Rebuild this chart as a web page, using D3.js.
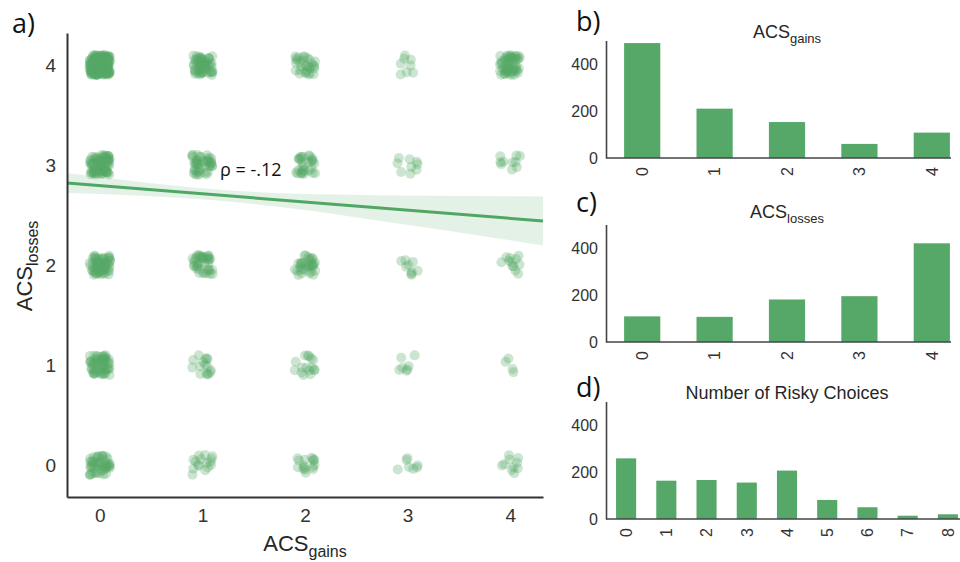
<!DOCTYPE html>
<html>
<head>
<meta charset="utf-8">
<script src="https://cdn.jsdelivr.net/npm/d3@7"></script>
<style>
  body { margin: 0; background: #fff; }
  svg { display: block; }
  .tick text { font-family: "Liberation Sans", Arial, sans-serif; fill: #333; }
  .lbl { font-family: "Liberation Sans", Arial, sans-serif; fill: #262626; }
  .panel { font-family: "Open Sans", sans-serif; fill: #111; font-size: 27px; }
</style>
</head>
<body>
<script>
var width = 960,
    height = 562;
var green = "#55a868";

// panel a: number of participants in each (gains, losses) cell
var levels = [0, 1, 2, 3, 4];
// rows = ACS losses 0..4, columns = ACS gains 0..4
var cellCounts = [
  [50, 16, 16, 7, 10],
  [60, 16, 16, 7, 4],
  [70, 40, 35, 9, 12],
  [80, 45, 30, 9, 10],
  [200, 60, 30, 8, 60]
];
// fitted regression line and its confidence band
var fitX = [-0.32, 4.32];
var fitY = [2.82, 2.44];
var ciX = [-0.32, 0.5, 1.2, 2.0, 2.54, 3.2, 4.32];
var ciLow = [2.72, 2.688, 2.641, 2.55, 2.471, 2.372, 2.195];
var ciHigh = [2.92, 2.818, 2.751, 2.71, 2.701, 2.692, 2.685];
var rhoLabel = "\u03c1 = -.12";

// panels b-d: histograms
var gainsCats = ["0", "1", "2", "3", "4"];
var gainsCounts = [489, 210, 153, 60, 108];
var lossesCats = ["0", "1", "2", "3", "4"];
var lossesCounts = [109, 107, 181, 195, 420];
var riskyCats = ["0", "1", "2", "3", "4", "5", "6", "7", "8"];
var riskyCounts = [258, 163, 166, 155, 206, 81, 50, 14, 20];
var countTicks = [0, 200, 400];

var svg = d3.select("body").append("svg")
    .attr("width", width)
    .attr("height", height);

// ---------- panel a ----------
var x = d3.scaleLinear().domain([-0.32, 4.32]).range([67, 543]);
var y = d3.scaleLinear().domain([-0.32, 4.32]).range([497, 33]);

var rnd = d3.randomUniform.source(d3.randomLcg(0.37))(-0.1, 0.1);
var points = [];
cellCounts.forEach(function(row, li) {
  row.forEach(function(n, gi) {
    for (var i = 0; i < n; i++) {
      points.push({ g: levels[gi] + rnd(), l: levels[li] + rnd() });
    }
  });
});

var pa = svg.append("g");

pa.selectAll("circle")
  .data(points)
  .enter().append("circle")
    .attr("cx", function(d) { return x(d.g); })
    .attr("cy", function(d) { return y(d.l); })
    .attr("r", 5)
    .attr("fill", green)
    .attr("fill-opacity", 0.3);

var band = d3.area()
    .x(function(d, i) { return x(ciX[i]); })
    .y0(function(d, i) { return y(ciLow[i]); })
    .y1(function(d, i) { return y(ciHigh[i]); })
    .curve(d3.curveMonotoneX);

pa.append("path")
  .datum(ciX)
  .attr("d", band)
  .attr("fill", green)
  .attr("fill-opacity", 0.16);

pa.append("path")
  .datum(fitX)
  .attr("d", d3.line()
    .x(function(d) { return x(d); })
    .y(function(d, i) { return y(fitY[i]); }))
  .attr("stroke", "#4fa763")
  .attr("stroke-width", 3)
  .attr("fill", "none");

pa.append("text")
  .attr("x", 220)
  .attr("y", 176)
  .style("font-family", "Open Sans, sans-serif")
  .style("font-size", "18px")
  .attr("fill", "#111")
  .text(rhoLabel);

var axA = pa.append("g")
  .attr("transform", "translate(67,0)")
  .call(d3.axisLeft(y).tickValues(levels).tickFormat(d3.format("d")).tickSize(0).tickPadding(11));
var axB = pa.append("g")
  .attr("transform", "translate(0,497)")
  .call(d3.axisBottom(x).tickValues(levels).tickFormat(d3.format("d")).tickSize(0).tickPadding(12));
[axA, axB].forEach(function(a) {
  a.select(".domain").attr("stroke", "#333").attr("stroke-width", 2);
  a.selectAll(".tick text").style("font-size", "19px");
});

var xl = pa.append("text").attr("class", "lbl")
  .attr("x", 305).attr("y", 551)
  .attr("text-anchor", "middle")
  .style("font-size", "22px");
xl.append("tspan").text("ACS");
xl.append("tspan").attr("dy", 6).style("font-size", "16px").text("gains");

var yl = pa.append("text").attr("class", "lbl")
  .attr("transform", "translate(32,266) rotate(-90)")
  .attr("text-anchor", "middle")
  .style("font-size", "22px");
yl.append("tspan").text("ACS");
yl.append("tspan").attr("dy", 6).style("font-size", "16px").text("losses");

svg.append("text").attr("class", "panel").attr("x", 12).attr("y", 33).text("a)");

// ---------- panels b-d ----------
var panels = [
  { letter: "b)", cats: gainsCats, counts: gainsCounts, base: 158, title: "ACS", sub: "gains", ty: 38, ly: 31, right: 951 },
  { letter: "c)", cats: lossesCats, counts: lossesCounts, base: 342, title: "ACS", sub: "losses", ty: 218, ly: 212, right: 951 },
  { letter: "d)", cats: riskyCats, counts: riskyCounts, base: 519, title: "Number of Risky Choices", sub: null, ty: 399, ly: 397, right: 960 }
];

panels.forEach(function(p) {
  var g = svg.append("g");
  var xb = d3.scaleBand()
      .domain(p.cats)
      .range([606, 968])
      .paddingInner(0.5)
      .paddingOuter(0.25);
  var yb = d3.scaleLinear()
      .domain([0, 500])
      .range([p.base, p.base - 117.5]);

  g.selectAll("rect")
    .data(p.counts)
    .enter().append("rect")
      .attr("x", function(d, i) { return xb(p.cats[i]); })
      .attr("width", xb.bandwidth())
      .attr("y", function(d) { return yb(d); })
      .attr("height", function(d) { return yb(0) - yb(d); })
      .attr("fill", green);

  var ay = g.append("g")
    .attr("transform", "translate(606,0)")
    .call(d3.axisLeft(yb).tickValues(countTicks).tickSize(0).tickPadding(8));
  ay.select(".domain").attr("stroke", "#444").attr("stroke-width", 1.6);
  ay.selectAll(".tick text").style("font-size", "16px");

  var ax = g.append("g")
    .attr("transform", "translate(0," + p.base + ")")
    .call(d3.axisBottom(xb).tickSize(0));
  ax.select(".domain").remove();
  ax.append("line")
    .attr("x1", 606).attr("x2", p.right)
    .attr("stroke", "#444").attr("stroke-width", 1.6);
  ax.selectAll(".tick text")
    .style("font-size", "16px")
    .attr("transform", "rotate(-90)")
    .attr("text-anchor", "end")
    .attr("x", -9)
    .attr("y", 0)
    .attr("dy", "0.36em");

  var t = g.append("text").attr("class", "lbl")
    .attr("x", 787).attr("y", p.ty)
    .attr("text-anchor", "middle")
    .style("font-size", "18px");
  t.append("tspan").text(p.title);
  if (p.sub) t.append("tspan").attr("dy", 5).style("font-size", "13px").text(p.sub);

  svg.append("text").attr("class", "panel").attr("x", 576).attr("y", p.ly).text(p.letter);
});
</script>
</body>
</html>
